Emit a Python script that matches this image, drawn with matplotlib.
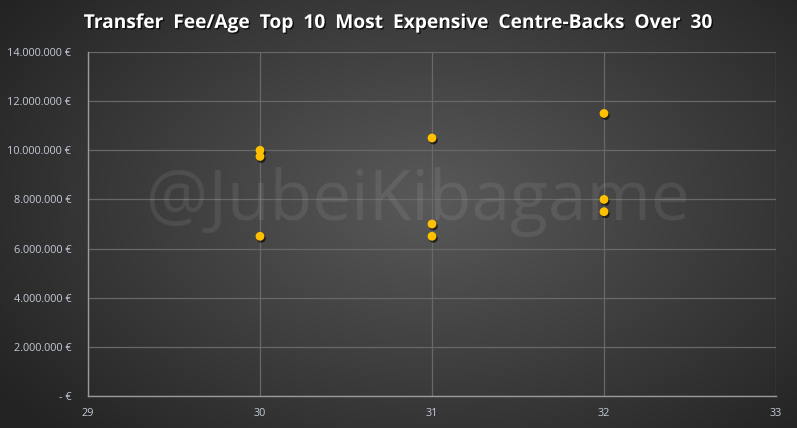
import numpy as np
import matplotlib
matplotlib.use("Agg")
import matplotlib.pyplot as plt
import matplotlib.patheffects as pe
from matplotlib.ticker import FuncFormatter, MultipleLocator

# data
age = [30, 30, 30, 31, 31, 31, 32, 32, 32]
fee = [10_000_000, 9_750_000, 6_500_000,
       10_500_000, 7_000_000, 6_500_000,
       11_500_000, 8_000_000, 7_500_000]
title = "Transfer  Fee/Age  Top  10  Most  Expensive  Centre-Backs  Over  30"
watermark = "@JubeiKibagame"

W, H = 797, 428
fig = plt.figure(figsize=(W / 100, H / 100), dpi=100)

# radial gradient background
bg = fig.add_axes([0, 0, 1, 1])
yy, xx = np.mgrid[0:H, 0:W]
r = np.sqrt(((xx - 430) / 520.0) ** 2 + ((yy - 200) / 330.0) ** 2)
r = np.clip(r, 0, 1)
shade = 0.35 - 0.21 * r
bg.imshow(np.dstack([shade, shade, shade]), aspect="auto", extent=[0, 1, 0, 1])
bg.axis("off")

ax = fig.add_axes([88 / W, 1 - 396 / H, (776 - 88) / W, (396 - 52) / H])
ax.patch.set_alpha(0)

ax.text(0.48, 0.565, watermark, transform=ax.transAxes, ha="center", va="center",
        fontsize=50, color="white", alpha=0.08, family="Open Sans", zorder=1)

ax.scatter(age, fee, s=40, color="#FFC000", zorder=5, linewidths=0,
           path_effects=[pe.withSimplePatchShadow(offset=(1, -1.5), shadow_rgbFace="black", alpha=0.6)])

ax.set_xlim(29, 33)
ax.set_ylim(0, 14_000_000)
ax.xaxis.set_major_locator(MultipleLocator(1))
ax.yaxis.set_major_locator(MultipleLocator(2_000_000))


def euro(v, pos):
    if v == 0:
        return "- €"
    return f"{int(v):,}".replace(",", ".") + " €"


ax.yaxis.set_major_formatter(FuncFormatter(euro))
ax.grid(True, color="#686868", lw=0.9)
ax.set_axisbelow(True)
for s in ["top", "right"]:
    ax.spines[s].set_visible(False)
for s in ["left", "bottom"]:
    ax.spines[s].set_color("#9a9a9a")
    ax.spines[s].set_linewidth(1.0)
ax.tick_params(axis="y", length=0, colors="#c3cad6", labelsize=7.8, pad=12)
ax.tick_params(axis="x", length=0, colors="#c3cad6", labelsize=7.8, pad=9)
for lab in ax.get_xticklabels() + ax.get_yticklabels():
    lab.set_family("Open Sans")

fig.text(0.5, 1 - 23 / H, title, ha="center", va="center", color="white",
         fontsize=13.8, fontweight="bold", family="Open Sans",
         path_effects=[pe.withSimplePatchShadow(offset=(1, -1), shadow_rgbFace="black", alpha=0.7)])

fig.savefig("out.png", dpi=100)
